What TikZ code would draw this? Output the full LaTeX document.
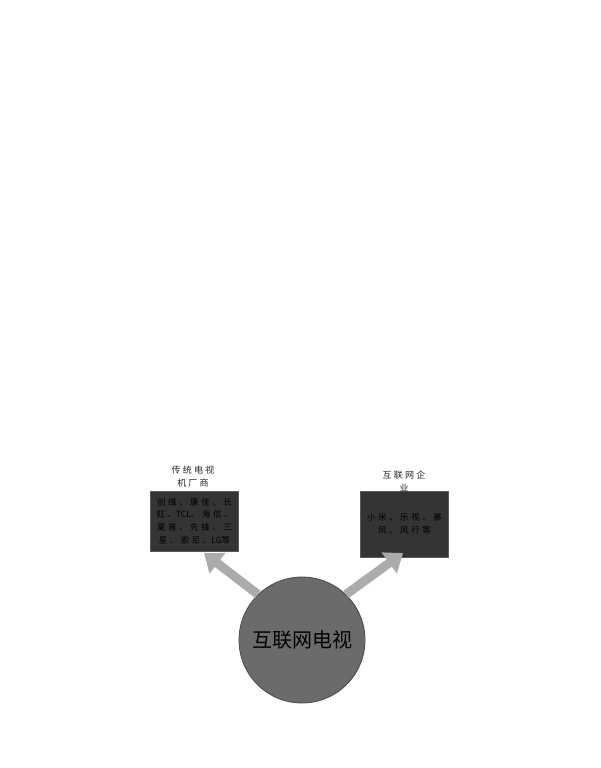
\documentclass[tikz,border=0pt]{standalone}
\usepackage{fontspec}
\newfontfamily\cjk{Noto Sans CJK SC}
\newfontfamily\cjkwide[LetterSpace=30]{Noto Sans CJK SC}
\newfontfamily\cjktitle[LetterSpace=25]{Noto Sans CJK SC}
\newcommand\tight[1]{{\cjk #1}}
\usetikzlibrary{arrows.meta}
\definecolor{boxfill}{HTML}{343434}
\definecolor{boxedge}{HTML}{5A5A5A}
\definecolor{circfill}{HTML}{6B6B6B}
\definecolor{circedge}{HTML}{4A4A4A}
\definecolor{arrowgray}{HTML}{ABABAB}
\tikzset{
  brandbox/.style={draw=boxedge, line width=0.8pt, fill=boxfill, minimum width=87pt, inner sep=2pt, align=center, font=\cjkwide\fontsize{8.5}{12.7}\selectfont, text=black},
  titletext/.style={align=center, font=\cjktitle\fontsize{9}{13}\selectfont, text=black!85},
  bigarrow/.style={draw=arrowgray, line width=9pt, -{Triangle[width=25pt,length=17pt]}}
}
\begin{document}
\begin{tikzpicture}[x=1pt,y=-1pt]
\useasboundingbox (0,0) rectangle (600,768);
\node[brandbox, minimum height=60pt, text width=84pt] (l) at (194.5,521) {创维、康佳、长\\虹、\tight{TCL}、海信、\\夏普、先锋、三\\星、索尼、\tight{LG}等};
\node[brandbox, minimum height=66pt, text width=84pt] (r) at (404.5,524) {小米、乐视、暴\\风、风行等};
\node[titletext] (lt) at (193,477) {传统电视\\机厂商};
\node[titletext] (rt) at (404,481) {互联网企\\业};
\node[circle, draw=circedge, line width=0.8pt, fill=circfill, minimum size=126pt, inner sep=0pt, font=\cjk\fontsize{20}{24}\selectfont, text=black] (tv) at (302,640) {互联网电视};
\coordinate (ltip) at (204,553);
\coordinate (rtip) at (403,553);
\draw[bigarrow] (tv.134) -- (ltip);
\draw[bigarrow] (tv.46) -- (rtip);
\end{tikzpicture}
\end{document}
